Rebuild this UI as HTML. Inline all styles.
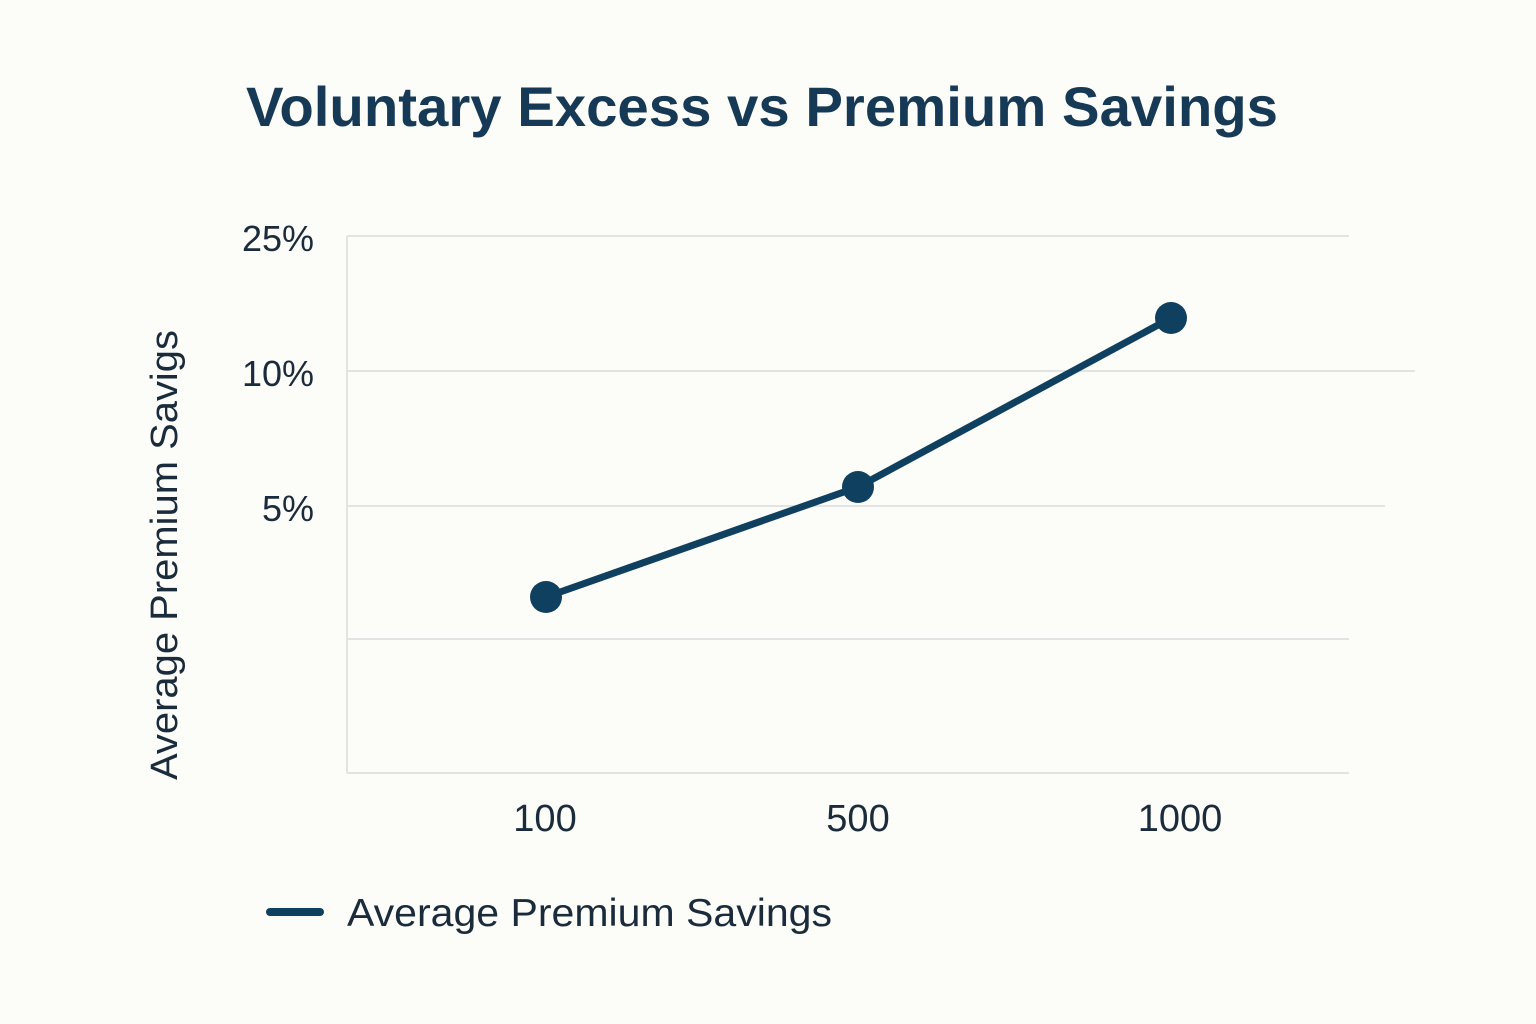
<!DOCTYPE html>
<html><head><style>
html,body{margin:0;padding:0;background:#fcfcf8;}
</style></head><body>
<svg width="1536" height="1024" xmlns="http://www.w3.org/2000/svg" style="display:block">
<rect width="1536" height="1024" fill="#fcfcf8"/>
<text x="762" y="126" text-anchor="middle" font-family="Liberation Sans, sans-serif" font-size="56" font-weight="bold" fill="#163a56" textLength="1032" lengthAdjust="spacingAndGlyphs">Voluntary Excess vs Premium Savings</text>
<g stroke="#e2e3e3" stroke-width="2">
<line x1="347" y1="236" x2="1349" y2="236"/>
<line x1="347" y1="371" x2="1415" y2="371"/>
<line x1="347" y1="506" x2="1385" y2="506"/>
<line x1="347" y1="639" x2="1349" y2="639"/>
<line x1="347" y1="773" x2="1349" y2="773"/>
<line x1="347" y1="236" x2="347" y2="773"/>
</g>
<g font-family="Liberation Sans, sans-serif" font-size="36" fill="#1a2b3c" text-anchor="end">
<text x="314" y="251">25%</text>
<text x="314" y="386">10%</text>
<text x="314" y="521">5%</text>
</g>
<g font-family="Liberation Sans, sans-serif" font-size="38" fill="#1a2b3c" text-anchor="middle">
<text x="545" y="831">100</text>
<text x="858" y="831">500</text>
<text x="1180" y="831">1000</text>
</g>
<text transform="translate(177,555) rotate(-90)" text-anchor="middle" font-family="Liberation Sans, sans-serif" font-size="38" fill="#1a2b3c" textLength="450" lengthAdjust="spacingAndGlyphs">Average Premium Savigs</text>
<polyline points="546,597 858,487 1171,318" fill="none" stroke="#0f405f" stroke-width="7" stroke-linejoin="round"/>
<g fill="#0f405f">
<circle cx="546" cy="597" r="16"/>
<circle cx="858" cy="487" r="16"/>
<circle cx="1171" cy="318" r="16"/>
</g>
<line x1="270" y1="912" x2="320" y2="912" stroke="#0f405f" stroke-width="8" stroke-linecap="round"/>
<text x="347" y="926" font-family="Liberation Sans, sans-serif" font-size="39" fill="#1a2b3c" textLength="485" lengthAdjust="spacingAndGlyphs">Average Premium Savings</text>
</svg>
</body></html>
